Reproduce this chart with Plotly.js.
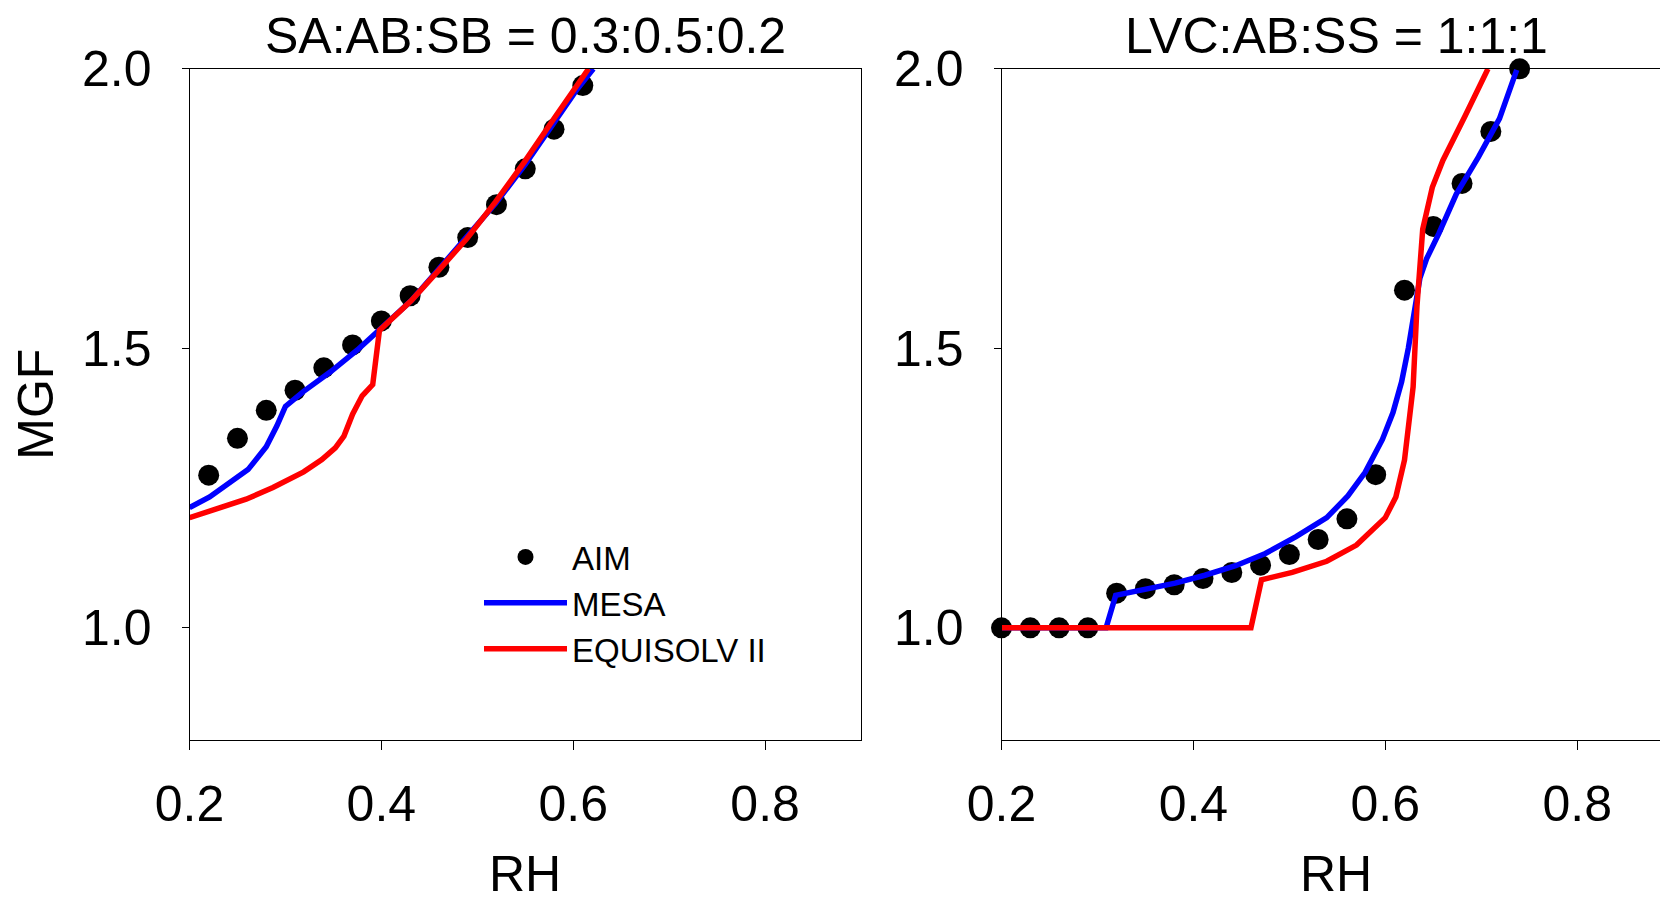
<!DOCTYPE html>
<html>
<head>
<meta charset="utf-8">
<script src="https://cdn.plot.ly/plotly-3.0.1.min.js"></script>
<style>
  html, body { margin: 0; padding: 0; background: #ffffff; }
  #chart { width: 1660px; height: 903px; }
</style>
</head>
<body>
<div id="chart"></div>
<script>
// ---- Panel 1: SA:AB:SB = 0.3:0.5:0.2 ----
const aimRH1 = [0.22, 0.25, 0.28, 0.31, 0.34, 0.37, 0.40, 0.43, 0.46, 0.49, 0.52, 0.55, 0.58, 0.61];
const aimMGF1 = [1.273, 1.339, 1.389, 1.425, 1.465, 1.506, 1.549, 1.594, 1.645, 1.698, 1.757, 1.821, 1.892, 1.970];

const mesaRH1 = [0.200, 0.221, 0.261, 0.280, 0.291, 0.300, 0.319, 0.347, 0.375, 0.400, 0.431, 0.459, 0.489, 0.519, 0.550, 0.580, 0.603, 0.621];
const mesaMGF1 = [1.215, 1.234, 1.283, 1.324, 1.361, 1.396, 1.423, 1.458, 1.497, 1.535, 1.585, 1.640, 1.698, 1.759, 1.829, 1.903, 1.961, 2.000];

const eqRH1 = [0.200, 0.228, 0.259, 0.287, 0.319, 0.338, 0.352, 0.361, 0.370, 0.380, 0.391, 0.398, 0.407, 0.431, 0.459, 0.489, 0.519, 0.549, 0.580, 0.616];
const eqMGF1 = [1.197, 1.212, 1.230, 1.251, 1.279, 1.301, 1.322, 1.343, 1.382, 1.415, 1.435, 1.532, 1.546, 1.585, 1.638, 1.696, 1.762, 1.833, 1.911, 2.000];

// ---- Panel 2: LVC:AB:SS = 1:1:1 ----
const aimRH2 = [0.20, 0.23, 0.26, 0.29, 0.32, 0.35, 0.38, 0.41, 0.44, 0.47, 0.50, 0.53, 0.56, 0.59, 0.62, 0.65, 0.68, 0.71, 0.74];
const aimMGF2 = [1.000, 1.000, 1.000, 1.000, 1.062, 1.070, 1.077, 1.088, 1.099, 1.112, 1.131, 1.158, 1.195, 1.274, 1.604, 1.718, 1.795, 1.888, 2.000];

const mesaRH2 = [0.200, 0.309, 0.319, 0.349, 0.381, 0.412, 0.444, 0.475, 0.507, 0.539, 0.561, 0.579, 0.597, 0.608, 0.617, 0.624, 0.630, 0.636, 0.643, 0.656, 0.674, 0.697, 0.719, 0.737];
const mesaMGF2 = [1.000, 1.000, 1.058, 1.068, 1.080, 1.094, 1.111, 1.133, 1.163, 1.197, 1.236, 1.278, 1.337, 1.385, 1.440, 1.500, 1.570, 1.625, 1.660, 1.706, 1.776, 1.842, 1.911, 1.998];

const eqRH2 = [0.200, 0.460, 0.471, 0.503, 0.539, 0.570, 0.600, 0.611, 0.620, 0.629, 0.633, 0.639, 0.649, 0.660, 0.683, 0.707];
const eqMGF2 = [1.000, 1.000, 1.086, 1.099, 1.119, 1.148, 1.197, 1.234, 1.300, 1.431, 1.575, 1.713, 1.788, 1.836, 1.915, 2.000];

const seriesNames = ['AIM', 'MESA', 'EQUISOLV II'];
const panelTitles = ['SA:AB:SB = 0.3:0.5:0.2', 'LVC:AB:SS = 1:1:1'];
const xTickVals = [0.2, 0.4, 0.6, 0.8];
const xTickText = ['0.2', '0.4', '0.6', '0.8'];
const yTickVals = [1.0, 1.5, 2.0];
const yTickText = ['1.0', '1.5', '2.0'];
const xAxisTitle = 'RH';
const yAxisTitle = 'MGF';

const FONT = 'Liberation Sans, Arial, Helvetica, sans-serif';
const W = 1660, H = 903;
const BLUE = '#0000ff', RED = '#ff0000';

function dots(x, y, xa, ya, show) {
  return { x: x, y: y, xaxis: xa, yaxis: ya, type: 'scatter', mode: 'markers', name: seriesNames[0],
    marker: { color: '#000000', size: 21 }, showlegend: show, legendgroup: 'aim', cliponaxis: false };
}
function line(x, y, xa, ya, name, color, show, grp) {
  return { x: x, y: y, xaxis: xa, yaxis: ya, type: 'scatter', mode: 'lines', name: name,
    line: { color: color, width: 5.5 }, showlegend: show, legendgroup: grp, cliponaxis: false };
}

const data = [
  dots(aimRH1, aimMGF1, 'x', 'y', true),
  line(mesaRH1, mesaMGF1, 'x', 'y', seriesNames[1], BLUE, true, 'mesa'),
  line(eqRH1, eqMGF1, 'x', 'y', seriesNames[2], RED, true, 'eq'),
  dots(aimRH2, aimMGF2, 'x2', 'y2', false),
  line(mesaRH2, mesaMGF2, 'x2', 'y2', seriesNames[1], BLUE, false, 'mesa'),
  line(eqRH2, eqMGF2, 'x2', 'y2', seriesNames[2], RED, false, 'eq')
];

const yTop = 1 - 68.8 / H, yBot = 1 - 739.6 / H;

function xaxisDef(domain, range, mirror) {
  return {
    domain: domain, range: range, autorange: false,
    tickmode: 'array', tickvals: xTickVals, ticktext: xTickText,
    ticks: 'outside', ticklen: 9, tickwidth: 1, tickcolor: '#000',
    showline: true, linecolor: '#000', linewidth: 1, mirror: mirror,
    showgrid: false, zeroline: false,
    tickfont: { family: FONT, size: 50, color: '#000' },
    ticklabelstandoff: 11
  };
}
function yaxisDef(anchor, mirror) {
  return {
    domain: [yBot, yTop], range: [0.8, 2.0], autorange: false, anchor: anchor,
    tickmode: 'array', tickvals: yTickVals, ticktext: yTickText,
    ticks: 'outside', ticklen: 7, tickwidth: 1, tickcolor: '#000',
    showline: true, linecolor: '#000', linewidth: 1, mirror: mirror,
    showgrid: false, zeroline: false,
    tickfont: { family: FONT, size: 50, color: '#000' },
    ticklabelstandoff: 20
  };
}

const xa1 = xaxisDef([189.5 / W, 861 / W], [0.2, 0.9], true);
xa1.anchor = 'y';
const xa2 = xaxisDef([1001.5 / W, 1], [0.2, 0.2 + (W - 1001.5) / 959.5], true);
xa2.anchor = 'y2';
const ya1 = yaxisDef('x', true);
ya1.title = { text: yAxisTitle, font: { family: FONT, size: 50, color: '#000' }, standoff: 12 };
const ya2 = yaxisDef('x2', false);

const titleFont = { family: FONT, size: 50, color: '#000' };
function note(text, xpx, ypx, yanchor) {
  return { text: text, xref: 'paper', yref: 'paper', x: xpx / W, y: 1 - ypx / H,
    xanchor: 'center', yanchor: yanchor || 'middle', showarrow: false, font: titleFont, borderpad: 0 };
}

const layout = {
  width: W, height: H,
  margin: { l: 0, r: 0, t: 0, b: 0, pad: 0 },
  paper_bgcolor: '#ffffff', plot_bgcolor: '#ffffff',
  font: { family: FONT, color: '#000' },
  showlegend: true,
  legend: {
    x: 479 / W, xanchor: 'left', y: 1 - 529 / H, yanchor: 'top',
    bgcolor: 'rgba(0,0,0,0)', borderwidth: 0,
    font: { family: FONT, size: 33, color: '#000' },
    itemwidth: 83, tracegroupgap: 0
  },
  xaxis: xa1, yaxis: ya1, xaxis2: xa2, yaxis2: ya2,
  annotations: [
    note(panelTitles[0], 525, 36),
    note(panelTitles[1], 1336, 36),
    note(xAxisTitle, 525, 903, 'bottom'),
    note(xAxisTitle, 1336, 903, 'bottom')
  ]
};

Plotly.newPlot('chart', data, layout, { displayModeBar: false, responsive: false });
</script>
</body>
</html>
